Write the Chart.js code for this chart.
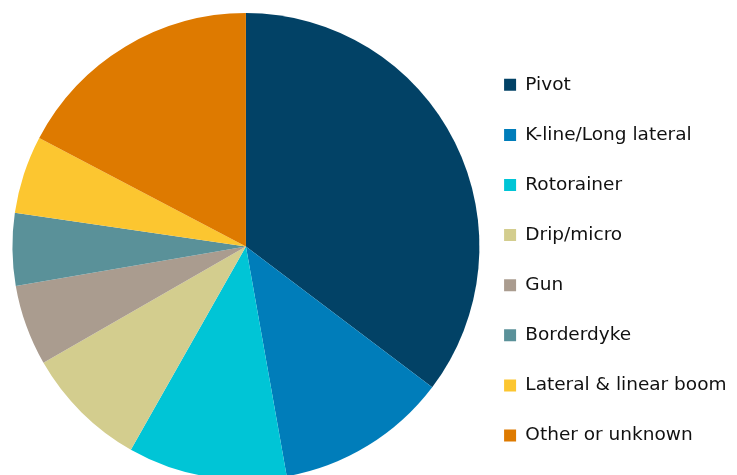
<!DOCTYPE html>
<html>
<head>
<meta charset="utf-8">
<script src="https://cdn.jsdelivr.net/npm/chart.js@4/dist/chart.umd.min.js"></script>
<style>
  html, body { margin: 0; padding: 0; background: #ffffff; overflow: hidden; }
  #wrap { position: absolute; left: 0; top: 0; width: 740px; height: 480px; }
</style>
</head>
<body>
<div id="wrap"><canvas id="c" width="740" height="480"></canvas></div>
<script>
const categories = ["Pivot", "K-line/Long lateral", "Rotorainer", "Drip/micro", "Gun", "Borderdyke", "Lateral & linear boom", "Other or unknown"];
const shares = [35.3, 11.9, 11.0, 8.5, 5.6, 5.0, 5.4, 17.3];
const colours = ["#024266", "#007DBA", "#00C5D6", "#D3CD8E", "#AA9C8F", "#5A9199", "#FCC630", "#DE7A00"];

new Chart(document.getElementById('c'), {
  type: 'pie',
  data: {
    labels: categories,
    datasets: [{
      data: shares,
      backgroundColor: colours,
      borderWidth: 0,
      radius: 233.5
    }]
  },
  options: {
    responsive: false,
    animation: false,
    devicePixelRatio: 1,
    layout: { padding: { left: 19.35, right: 3.5, top: 13, bottom: 0 } },
    plugins: {
      tooltip: { enabled: false },
      legend: {
        position: 'right',
        align: 'center',
        title: { display: true, text: '', padding: { top: 17.3, bottom: 0 }, font: { size: 10, lineHeight: 1 } },
        labels: {
          boxWidth: 12,
          boxHeight: 12,
          padding: 31.6,
          color: '#111111',
          font: { family: 'DejaVu Sans', size: 18.5 }
        }
      }
    }
  }
});
</script>
</body>
</html>
